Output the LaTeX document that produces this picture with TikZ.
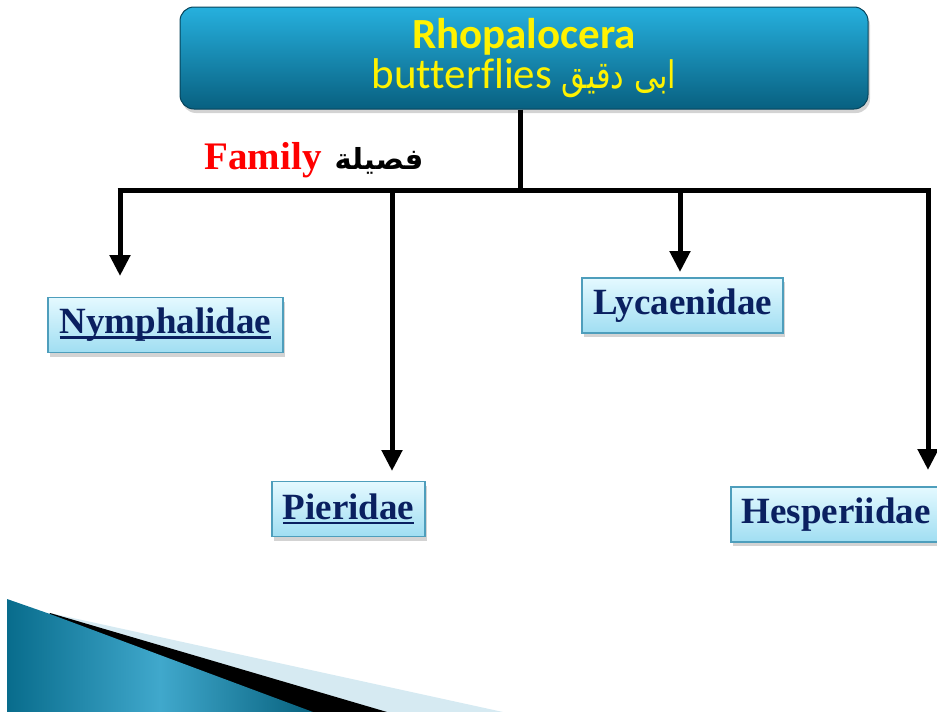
\documentclass[tikz,border=0pt]{standalone}
\usepackage{fontspec}
\setmainfont{Liberation Serif}
\newfontfamily\calfont[Ligatures=CommonOff]{Carlito}
\newfontfamily\arabicfont[Script=Arabic]{DejaVu Sans}
\TeXXeTstate=1
\usetikzlibrary{arrows.meta,shadows}

\definecolor{tealtop}{RGB}{38,176,222}
\definecolor{tealbot}{RGB}{8,96,128}
\definecolor{famtop}{RGB}{228,249,255}
\definecolor{fambot}{RGB}{160,222,242}
\definecolor{famedge}{RGB}{78,158,188}
\definecolor{famtext}{RGB}{10,32,96}
\definecolor{wedgelight}{RGB}{214,234,242}
\definecolor{wedgedark}{RGB}{8,108,140}
\definecolor{wedgemid}{RGB}{64,168,204}

% thick underline for the family names
\newcommand\famul[1]{\setbox0\hbox{#1}\rlap{\rule[-5pt]{\wd0}{2.8pt}}\box0}

\begin{document}
\begin{tikzpicture}[x=1pt, y=-1pt,
  rootbox/.style={rounded corners=14pt, top color=tealtop, bottom color=tealbot,
    draw=tealbot!70!black, line width=1pt,
    drop shadow={shadow xshift=2pt, shadow yshift=-4pt, opacity=0.35},
    minimum width=688pt, minimum height=102pt, inner sep=0pt, align=center,
    text=yellow, font=\calfont\fontsize{43}{40}\selectfont},
  fambox/.style={draw=famedge, line width=1.5pt, top color=famtop, bottom color=fambot,
    drop shadow={shadow xshift=2pt, shadow yshift=-4pt, opacity=0.35},
    minimum height=55pt, inner sep=0pt, text=famtext,
    font=\bfseries\fontsize{37}{40}\selectfont},
  bar/.style={line width=5pt},
  arrow/.style={-{Triangle[length=21pt, width=20pt]}, line width=5pt},
]
\useasboundingbox (0,0) rectangle (937,712);
\clip (0,0) rectangle (937,712);

% ====== Order box ======
\node[rootbox] (root) at (524,58)
  {\bfseries Rhopalocera\\butterflies
   \scalebox{0.8}[1]{\arabicfont\fontsize{38}{40}\selectfont\beginR ابى دقيق\endR}};

\node[font=\bfseries\fontsize{39}{40}\selectfont] (famlbl) at (314,160)
  {\textcolor{red}{Family}\hspace{13pt}{\arabicfont\fontsize{29}{36}\selectfont\beginR فصيلة\endR}};

% ====== Branching bar ======
\coordinate (split) at (520,190);
\coordinate (barL) at (117.5,190);
\coordinate (barR) at (930.5,190);
\draw[bar] (root.south -| split) -- (split);
\draw[bar] (barL) -- (barR);

% ====== Families ======
\node[fambox, minimum width=235pt] (nym) at (165.5,325) {\famul{Nymphalidae}};
\node[fambox, minimum width=201pt] (lyc) at (682.5,305.5) {Lycaenidae};
\node[fambox, minimum width=153pt] (pie) at (348.5,509) {\famul{Pieridae}};
\node[fambox, minimum width=210pt] (hes) at (836,514.5) {Hesperiidae};

\coordinate (nymtip) at (120,276);
\coordinate (pietip) at (392,471);
\coordinate (lyctip) at (680,272);
\coordinate (hestip) at (928,470);
\foreach \t in {nymtip,pietip,lyctip,hestip}
  \draw[arrow] (\t |- split) -- (\t);

% ====== Corner wedge ======
\fill[wedgelight] (50,613) -- (503,712) -- (7,712) -- cycle;
\fill[black] (50,613) -- (387,712) -- (7,712) -- cycle;
\shade[left color=wedgedark, right color=wedgedark!90!black, middle color=wedgemid]
  (7,599) -- (50,614) -- (313,712) -- (7,712) -- cycle;

\end{tikzpicture}
\end{document}
